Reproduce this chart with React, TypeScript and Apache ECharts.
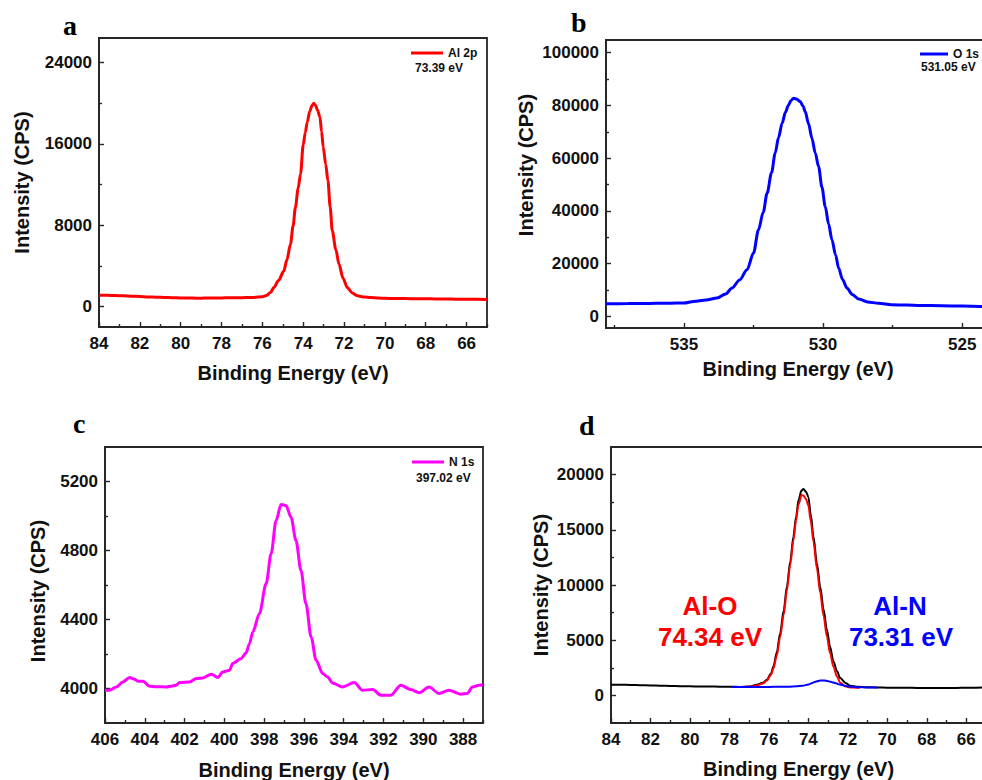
import React, { useEffect, useRef } from 'react';
import * as echarts from 'echarts';

// ---------- data (binding energy eV, intensity CPS) ----------
const al2p: [number, number][] = [
  [84.0, 1120], [83.6, 1110], [83.2, 1090], [82.8, 1060], [82.4, 1030], [82.0, 1000], [81.6, 960],
  [81.2, 930], [80.8, 900], [80.4, 880], [80.0, 860], [79.6, 850], [79.2, 830], [78.8, 840],
  [78.4, 850], [78.0, 860], [77.6, 870], [77.2, 880], [76.8, 890], [76.4, 910], [76.0, 980],
  [75.8, 1100], [75.6, 1400], [75.44, 1870], [75.2, 2600], [74.95, 3500], [74.8, 4600],
  [74.62, 6150], [74.5, 7900], [74.38, 9760], [74.25, 11600], [74.13, 13060], [74.0, 15900],
  [73.9, 17100], [73.8, 18150], [73.68, 19200], [73.56, 19800], [73.48, 20000], [73.4, 19800],
  [73.3, 19300], [73.18, 18640], [73.1, 17200], [73.02, 15680], [72.9, 14000], [72.79, 12400],
  [72.68, 9800], [72.58, 7470], [72.4, 5600], [72.25, 4180], [72.05, 2800], [71.84, 1870],
  [71.6, 1350], [71.35, 1060], [71.0, 950], [70.7, 890], [70.3, 850], [70.0, 820], [69.5, 800],
  [69.0, 790], [68.5, 780], [68.0, 770], [67.5, 760], [67.0, 750], [66.5, 730], [66.0, 720],
  [65.5, 730], [65.0, 710],
];

const o1s: [number, number][] = [
  [537.8, 4800], [537.0, 4850], [536.5, 4900], [536.0, 4950], [535.5, 5000], [535.0, 5070],
  [534.65, 5680], [534.2, 6200], [533.81, 6970], [533.5, 8500], [533.27, 10760], [533.0, 13800],
  [532.73, 17690], [532.5, 24000], [532.32, 32840], [532.15, 39500], [532.01, 46740],
  [531.85, 54500], [531.72, 61890], [531.6, 67800], [531.47, 73260], [531.35, 77500],
  [531.24, 80190], [531.15, 81900], [531.06, 82730], [530.95, 82400], [530.82, 81440],
  [530.72, 79800], [530.64, 77650], [530.52, 73000], [530.4, 67580], [530.28, 62000],
  [530.16, 56820], [530.04, 49000], [529.92, 41670], [529.8, 35000], [529.68, 29050],
  [529.55, 23300], [529.44, 18330], [529.3, 14000], [529.14, 10760], [528.95, 8300],
  [528.72, 6590], [528.4, 5500], [528.0, 4950], [527.54, 4430], [527.0, 4300], [526.5, 4150],
  [525.74, 4050], [525.0, 3900], [524.3, 3790], [524.0, 3780],
];

const n1s: [number, number][] = [
  [406.0, 3990], [405.76, 3990], [405.43, 4009], [405.1, 4038], [404.76, 4064], [404.55, 4055],
  [404.34, 4042], [404.09, 4042], [403.76, 4013], [403.4, 4010], [402.92, 4009], [402.6, 4015],
  [402.42, 4019], [402.25, 4035], [401.75, 4038], [401.41, 4058], [401.08, 4061], [400.66, 4083],
  [400.33, 4064], [400.08, 4096], [399.74, 4106], [399.58, 4145], [399.16, 4174], [398.91, 4206],
  [398.74, 4260], [398.57, 4328], [398.24, 4434], [397.9, 4608], [397.65, 4781], [397.4, 4974],
  [397.15, 5067], [396.9, 5061], [396.65, 4993], [396.4, 4858], [396.15, 4685], [395.9, 4492],
  [395.64, 4299], [395.39, 4164], [395.06, 4087], [394.81, 4067], [394.56, 4032], [394.06, 4009],
  [393.47, 4035], [393.06, 3990], [392.55, 3994], [392.13, 3961], [391.63, 3961], [391.13, 4019],
  [390.63, 3994], [390.21, 3975], [389.71, 4009], [389.21, 3971], [388.71, 3990], [388.12, 3967],
  [387.79, 3971], [387.53, 4009], [387.2, 4019], [387.0, 4022],
];

const alTotal: [number, number][] = [
  [84, 970], [83.5, 960], [83, 950], [82.5, 930], [82, 900], [81.5, 880], [81, 860], [80.5, 840],
  [80, 820], [79.5, 810], [79, 800], [78.5, 790], [78, 780], [77.46, 770], [77, 800], [76.61, 970],
  [76.3, 1150], [76.1, 1420], [75.9, 1950], [75.77, 2620], [75.6, 3900], [75.43, 5640],
  [75.25, 7700], [75.09, 9850], [74.92, 12100], [74.76, 14370], [74.62, 16200], [74.5, 17690],
  [74.35, 18550], [74.25, 18700], [74.12, 18450], [74.0, 17980], [73.88, 16400], [73.74, 14370],
  [73.57, 12000], [73.4, 9850], [73.23, 7800], [73.06, 5940], [72.9, 4400], [72.73, 3070],
  [72.55, 2200], [72.39, 1570], [72.1, 1100], [71.88, 880], [71.5, 780], [71.0, 740], [70.5, 720],
  [70, 700], [69.5, 690], [69, 690], [68.5, 680], [68, 680], [67.5, 670], [67, 680], [66.5, 680],
  [66, 690], [65.5, 700], [65, 720],
];

const alO: [number, number][] = [
  [77.9, 760], [77.3, 770], [76.9, 800], [76.6, 900], [76.3, 1080], [76.1, 1350], [75.9, 1850],
  [75.77, 2450], [75.6, 3600], [75.43, 5300], [75.25, 7300], [75.09, 9500], [74.92, 11800],
  [74.76, 14000], [74.62, 15900], [74.5, 17300], [74.34, 18150], [74.25, 18100], [74.12, 17800],
  [74.0, 17200], [73.88, 15800], [73.74, 13900], [73.57, 11500], [73.4, 9300], [73.23, 7200],
  [73.06, 5300], [72.9, 3800], [72.73, 2600], [72.55, 1700], [72.39, 1150], [72.1, 800],
  [71.88, 720], [71.5, 690], [71.4, 690],
];

const alN: [number, number][] = [
  [77.9, 760], [77, 770], [76, 770], [75.5, 775], [75, 790], [74.6, 820], [74.3, 880], [74.0, 980],
  [73.8, 1130], [73.6, 1260], [73.4, 1350], [73.2, 1350], [73.0, 1290], [72.7, 1150], [72.4, 980],
  [72.1, 850], [71.8, 780], [71.4, 740], [71.0, 720], [70.5, 710],
];

// ---------- ticks ----------
const aXLabels = [84, 82, 80, 78, 76, 74, 72, 70, 68, 66];
const aXMinor = [83, 81, 79, 77, 75, 73, 71, 69, 67, 65];
const aYLabels = [0, 8000, 16000, 24000];
const aYMinor = [4000, 12000, 20000];
const bXLabels = [535, 530, 525];
const bXMinor = [537.5, 532.5, 527.5];
const bYLabels = [0, 20000, 40000, 60000, 80000, 100000];
const bYMinor = [10000, 30000, 50000, 70000, 90000];
const cXLabels = [406, 404, 402, 400, 398, 396, 394, 392, 390, 388];
const cXMinor = [405, 403, 401, 399, 397, 395, 393, 391, 389, 387];
const cYLabels = [4000, 4400, 4800, 5200];
const cYMinor = [4200, 4600, 5000];
const dXLabels = [84, 82, 80, 78, 76, 74, 72, 70, 68, 66];
const dXMinor = [83, 81, 79, 77, 75, 73, 71, 69, 67, 65];
const dYLabels = [0, 5000, 10000, 15000, 20000];
const dYMinor = [2500, 7500, 12500, 17500];

const AXIS = '#262626';
const SANS = 'Arial, "Liberation Sans", sans-serif';
const SERIF = '"Times New Roman", "Liberation Serif", serif';
const labelFont = { fontFamily: SANS, fontWeight: 'bold' as const, fontSize: 17, color: '#111' };
const nameFont = { fontFamily: SANS, fontWeight: 'bold' as const, fontSize: 20, color: '#111' };

function xAxes(grid: number, min: number, max: number, labels: number[], minors: number[], nameGap: number) {
  return [
    {
      type: 'value', gridIndex: grid, position: 'bottom', inverse: true, min, max,
      name: 'Binding Energy (eV)', nameLocation: 'middle', nameGap, nameTextStyle: nameFont,
      axisLine: { show: true, onZero: false, lineStyle: { color: AXIS, width: 1.8 } },
      axisTick: { show: true, inside: true, length: 5, customValues: labels, lineStyle: { color: AXIS, width: 1.4 } },
      axisLabel: { show: true, customValues: labels, margin: 8, formatter: (v: number) => String(v), ...labelFont },
      splitLine: { show: false },
    },
    {
      type: 'value', gridIndex: grid, position: 'bottom', inverse: true, min, max,
      axisLine: { show: false, onZero: false },
      axisTick: { show: true, inside: true, length: 3, customValues: minors, lineStyle: { color: AXIS, width: 1.4 } },
      axisLabel: { show: false },
      splitLine: { show: false },
    },
  ];
}

function yAxes(grid: number, min: number, max: number, labels: number[], minors: number[], nameGap: number, padding: number[]) {
  return [
    {
      type: 'value', gridIndex: grid, position: 'left', min, max,
      name: 'Intensity (CPS)', nameLocation: 'middle', nameGap,
      nameTextStyle: { ...nameFont, padding },
      axisLine: { show: true, onZero: false, lineStyle: { color: AXIS, width: 1.8 } },
      axisTick: { show: true, inside: true, length: 5, customValues: labels, lineStyle: { color: AXIS, width: 1.4 } },
      axisLabel: { show: true, customValues: labels, margin: 7, formatter: (v: number) => String(v), ...labelFont },
      splitLine: { show: false },
    },
    {
      type: 'value', gridIndex: grid, position: 'left', min, max,
      axisLine: { show: false, onZero: false },
      axisTick: { show: true, inside: true, length: 3, customValues: minors, lineStyle: { color: AXIS, width: 1.4 } },
      axisLabel: { show: false },
      splitLine: { show: false },
    },
  ];
}

function line(name: string, data: [number, number][], grid: number, color: string, width: number) {
  return {
    type: 'line', name, data, xAxisIndex: grid * 2, yAxisIndex: grid * 2,
    showSymbol: false, symbol: 'none', smooth: 0.3, smoothMonotone: 'x',
    lineStyle: { color, width }, itemStyle: { color },
    emphasis: { disabled: true },
  };
}

function legend(name: string, left: number, top: number, itemWidth = 32) {
  return {
    data: [name], left, top, padding: 0, itemWidth, itemHeight: 3, icon: 'rect',
    selectedMode: false,
    textStyle: { fontFamily: SANS, fontWeight: 'bold', fontSize: 12, color: '#111' },
  };
}

function txt(text: string, x: number, y: number, size: number, color: string, align = 'left', family = SANS) {
  return {
    type: 'text', x, y,
    style: { text, fill: color, fontSize: size, fontWeight: 'bold', fontFamily: family, align, verticalAlign: 'middle' },
  };
}

const gridBase = { show: true, borderColor: AXIS, borderWidth: 1.8, backgroundColor: 'transparent', outerBoundsMode: 'none' };

export default function App() {
  const ref = useRef<HTMLDivElement>(null);
  useEffect(() => {
    document.body.style.margin = '0';
    if (!ref.current) return;
    const chart = echarts.init(ref.current, undefined, { renderer: 'svg' });
    chart.setOption({
      animation: false,
      backgroundColor: '#ffffff',
      grid: [
        { ...gridBase, left: 99, top: 38, width: 388, height: 289 },
        { ...gridBase, left: 606, top: 40, width: 384, height: 288 },
        { ...gridBase, left: 105, top: 447, width: 378, height: 276 },
        { ...gridBase, left: 611, top: 447, width: 375, height: 276 },
      ],
      xAxis: [
        ...xAxes(0, 65, 84, aXLabels, aXMinor, 36),
        ...xAxes(1, 524, 537.8, bXLabels, bXMinor, 31),
        ...xAxes(2, 387, 406, cXLabels, cXMinor, 37),
        ...xAxes(3, 65, 84, dXLabels, dXMinor, 36),
      ],
      yAxis: [
        ...yAxes(0, -2000, 26400, aYLabels, aYMinor, 67, [0, 0, 0, 0]),
        ...yAxes(1, -4400, 104800, bYLabels, bYMinor, 70, [0, 0, 0, 38]),
        ...yAxes(2, 3800, 5400, cYLabels, cYMinor, 57, [0, 12, 0, 0]),
        ...yAxes(3, -2500, 22500, dYLabels, dYMinor, 60, [0, 0, 0, 0]),
      ],
      legend: [
        legend('Al 2p', 411, 47),
        legend('O 1s', 920, 48, 28),
        legend('N 1s', 412, 456),
      ],
      series: [
        line('Al 2p', al2p, 0, '#ff0000', 3),
        line('O 1s', o1s, 1, '#0000ff', 3),
        line('N 1s', n1s, 2, '#ff00ff', 3),
        line('Al 2p total', alTotal, 3, '#000000', 2),
        line('Al-O', alO, 3, '#ff0000', 2),
        line('Al-N', alN, 3, '#0000ff', 2),
      ],
      graphic: [
        txt('a', 63, 25, 28, '#000', 'left', SERIF),
        txt('b', 571, 22, 28, '#000', 'left', SERIF),
        txt('c', 73, 423, 28, '#000', 'left', SERIF),
        txt('d', 579, 425, 28, '#000', 'left', SERIF),
        txt('73.39 eV', 415, 68, 12, '#111'),
        txt('531.05 eV', 921, 67, 12, '#111'),
        txt('397.02 eV', 416, 478, 12, '#111'),
        txt('Al-O', 710, 606, 26, '#ff0000', 'center'),
        txt('74.34 eV', 710, 637, 26, '#ff0000', 'center'),
        txt('Al-N', 900, 606, 26, '#0000ff', 'center'),
        txt('73.31 eV', 901, 637, 26, '#0000ff', 'center'),
      ],
    });
    return () => chart.dispose();
  }, []);
  return <div ref={ref} style={{ width: 982, height: 780, overflow: 'hidden' }} />;
}
